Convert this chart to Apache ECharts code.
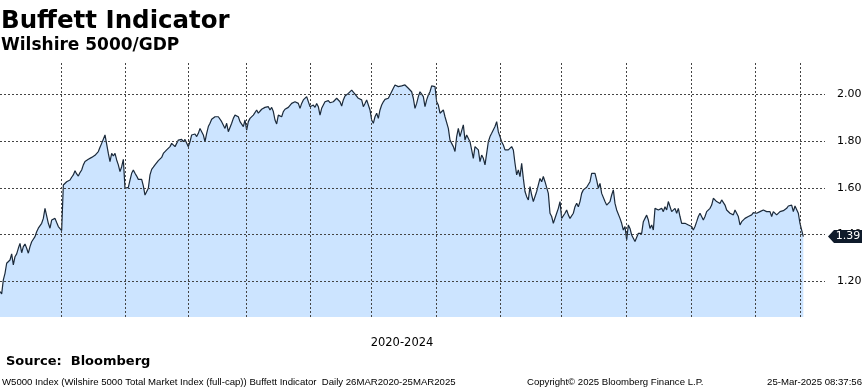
<!DOCTYPE html>
<html>
<head>
<meta charset="utf-8">
<script src="https://cdn.jsdelivr.net/npm/echarts@6/dist/echarts.min.js"></script>
<style>
html,body{margin:0;padding:0;background:#fff;}
#chart{width:865px;height:388px;}
</style>
</head>
<body>
<div id="chart"></div>
<script>
// Buffett Indicator (Wilshire 5000 / GDP), sampled 26MAR2020 - 25MAR2025
const ratio2020 = [1.156,1.146,1.206,1.234,1.277,1.284,1.291,1.317,1.270,1.305,1.317,1.341,1.362,1.322,1.348,1.359,1.341,1.320,1.348,1.369,
1.377,1.391,1.412,1.427,1.434,1.448,1.469,1.512,1.505,1.448,1.427,1.462,1.465,1.469,1.451,1.434,1.427,1.417,1.612,1.619,
1.626,1.622,1.633,1.645,1.655,1.673,1.659,1.650,1.665,1.676,1.698,1.712,1.719,1.722,1.726,1.730,1.736,1.739,1.743,1.755,
1.773,1.790,1.797,1.826,1.819,1.747,1.712,1.747,1.736,1.747,1.719,1.698,1.669,1.690,1.722,1.598,1.591,1.602,1.633,1.662,
1.676,1.662,1.650,1.636,1.641,1.636,1.608,1.569,1.562,1.598,1.655,1.679,1.688,1.698,1.690,1.716,1.712,1.730,1.747,1.755,
1.762,1.765,1.776,1.790,1.783,1.776,1.790,1.804,1.801,1.807,1.797,1.807,1.812,1.776,1.797,1.826,1.829,1.830,1.819,1.833];
const ratio2021 = [1.854,1.847,1.826,1.797,1.833,1.862,1.876,1.893,1.897,1.904,1.911,1.904,1.897,1.883,1.890,1.854,1.876,1.840,1.847,1.876,
1.897,1.911,1.919,1.904,1.883,1.890,1.862,1.890,1.847,1.883,1.897,1.904,1.911,1.919,1.933,1.919,1.926,1.936,1.940,1.944,
1.950,1.947,1.933,1.944,1.926,1.890,1.873,1.911,1.919,1.904,1.926,1.936,1.940,1.944,1.940,1.961,1.954,1.968,1.976,1.961,
1.940,1.961,1.976,1.983,1.990,1.993,1.947,1.944,1.954,1.944,1.961,1.947,1.911,1.940,1.954,1.968,1.961,1.973,1.964,1.968,
1.968,1.976,1.983,1.983,1.968,1.950,1.976,1.993,2.001,2.004,2.011,2.018,2.016,2.001,1.993,1.983,1.990,1.976,1.947,1.961,
1.976,1.978,1.933,1.890,1.876,1.904,1.919,1.897,1.933,1.954,1.968,1.978,1.983,1.983,1.997,2.004,2.026,2.040,2.047,2.033,
2.040,2.036,2.040];
const ratio2022 = [2.040,2.033,2.026,2.026,2.011,1.983,1.940,1.961,1.990,2.011,2.001,1.990,1.947,1.976,1.997,2.011,2.036,2.033,2.033,1.968,
1.954,1.919,1.919,1.933,1.904,1.897,1.854,1.804,1.790,1.776,1.755,1.819,1.854,1.819,1.826,1.869,1.804,1.826,1.826,1.797,
1.762,1.726,1.776,1.783,1.762,1.712,1.740,1.726,1.698,1.747,1.797,1.819,1.833,1.840,1.862,1.883,1.840,1.819,1.797,1.783,
1.762,1.755,1.762,1.755,1.776,1.762,1.705,1.655,1.676,1.648,1.705,1.640,1.584,1.562,1.548,1.605,1.569,1.541,1.548,1.584,
1.612,1.640,1.626,1.648,1.626,1.633,1.576,1.491,1.477,1.448,1.455,1.491,1.512,1.541,1.469,1.477,1.491,1.505,1.484,1.469,
1.477,1.491,1.519,1.534,1.519,1.541,1.576,1.591,1.598,1.602,1.605,1.626,1.662,1.669,1.662,1.633,1.598,1.619,1.576,1.569];
const ratio2024 = [1.541,1.526,1.519,1.541,1.569,1.591,1.533,1.505,1.498,1.469,1.448,1.419,1.434,1.377,1.441,1.426,1.398,1.384,1.370,1.377,
1.405,1.412,1.405,1.455,1.469,1.483,1.462,1.426,1.441,1.419,1.512,1.505,1.505,1.512,1.512,1.498,1.519,1.505,1.541,1.533,
1.498,1.498,1.512,1.491,1.512,1.477,1.448,1.451,1.448,1.455,1.441,1.448,1.434,1.419,1.434,1.455,1.477,1.491,1.484,1.462,
1.477,1.498,1.498,1.512,1.526,1.555,1.562,1.541,1.548,1.533,1.548,1.541,1.526,1.505,1.498,1.491,1.491,1.484,1.505,1.512,
1.477,1.441,1.455,1.462,1.469,1.462,1.477,1.469,1.484,1.494,1.498,1.491,1.491,1.498,1.498,1.505,1.508,1.498,1.505,1.498,
1.477,1.498,1.505,1.484,1.484,1.498,1.498,1.502,1.498,1.512,1.522,1.519,1.526,1.498,1.522,1.519,1.491,1.448,1.419,1.391];

const yTicks = [1.20, 1.40, 1.60, 1.80, 2.00];
const vGridIdx = [37, 75, 113, 148, 186, 223, 262, 300, 337, 376, 415, 453, 480];
const axisTitle = '2020-2024';
const totalSlots = 496;

const values = ratio2020.concat(ratio2021, ratio2022, ratio2024);
const categories = [];
for (let i = 0; i < totalSlots; i++) categories.push(String(i));
const lastVal = values[values.length - 1];

const gridColor = '#444444';
const footFont = {fontFamily: 'Liberation Sans', fontWeight: 'normal', fontSize: 9.6, color: '#000'};
const chart = echarts.init(document.getElementById('chart'), null, {renderer: 'canvas'});

const markData = [];
yTicks.forEach(v => markData.push({yAxis: v}));
vGridIdx.forEach(i => markData.push({xAxis: String(i)}));

chart.setOption({
  animation: false,
  backgroundColor: '#ffffff',
  title: [
    {text: 'Buffett Indicator', left: 1, top: 9, padding: 0,
     textStyle: {fontFamily: 'DejaVu Sans', fontWeight: 'bold', fontSize: 24.5, color: '#000'}},
    {text: 'Wilshire 5000/GDP', left: 1, top: 37, padding: 0,
     textStyle: {fontFamily: 'DejaVu Sans', fontWeight: 'bold', fontSize: 17, color: '#000'}},
    {text: 'Source:  Bloomberg', left: 6, top: 355, padding: 0,
     textStyle: {fontFamily: 'DejaVu Sans', fontWeight: 'bold', fontSize: 13, color: '#000'}},
    {text: axisTitle, left: 402, top: 337, padding: 0, textAlign: 'center',
     textStyle: {fontFamily: 'DejaVu Sans', fontWeight: 'normal', fontSize: 11.5, color: '#000'}},
    {text: 'W5000 Index (Wilshire 5000 Total Market Index (full-cap)) Buffett Indicator  Daily 26MAR2020-25MAR2025', left: 2, top: 377, padding: 0,
     textStyle: footFont},
    {text: 'Copyright\u00A9 2025 Bloomberg Finance L.P.', left: 527, top: 377, padding: 0,
     textStyle: footFont},
    {text: '25-Mar-2025 08:37:56', right: 3, top: 377, padding: 0,
     textStyle: footFont}
  ],
  grid: {left: 0, right: 40, top: 61, bottom: 71, containLabel: false},
  xAxis: {
    type: 'category',
    data: categories,
    boundaryGap: false,
    axisLine: {show: false},
    axisTick: {show: false},
    axisLabel: {show: false},
    splitLine: {show: false}
  },
  yAxis: {
    type: 'value',
    position: 'right',
    min: 1.047,
    max: 2.1425,
    axisLine: {show: false},
    axisTick: {show: false},
    splitLine: {show: false},
    axisLabel: {
      show: true, margin: 12, showMinLabel: false, showMaxLabel: false,
      fontFamily: 'DejaVu Sans', fontSize: 11, color: '#000',
      formatter: v => v.toFixed(2)
    }
  },
  series: [{
    type: 'line',
    data: values,
    symbol: 'none',
    showSymbol: false,
    sampling: 'none',
    lineStyle: {color: '#1b2a3b', width: 1.2},
    areaStyle: {color: '#cce4ff', opacity: 1, origin: 'start'},
    z: 2,
    markLine: {
      silent: true,
      symbol: ['none', 'none'],
      label: {show: false},
      animation: false,
      lineStyle: {color: gridColor, width: 1, type: [2, 2]},
      emphasis: {disabled: true},
      data: markData
    }
  }]
});

const py = chart.convertToPixel({yAxisIndex: 0}, lastVal);
chart.setOption({
  graphic: [
    {type: 'polygon', z: 10,
     shape: {points: [[828, py], [834, py - 6.5], [862, py - 6.5], [862, py + 6.5], [834, py + 6.5]]},
     style: {fill: '#0f1b2b'}},
    {type: 'text', z: 11, x: 848, y: py,
     style: {text: lastVal.toFixed(2), fill: '#ffffff', font: '11px "DejaVu Sans"', align: 'center', verticalAlign: 'middle'}}
  ]
});
</script>
</body>
</html>
